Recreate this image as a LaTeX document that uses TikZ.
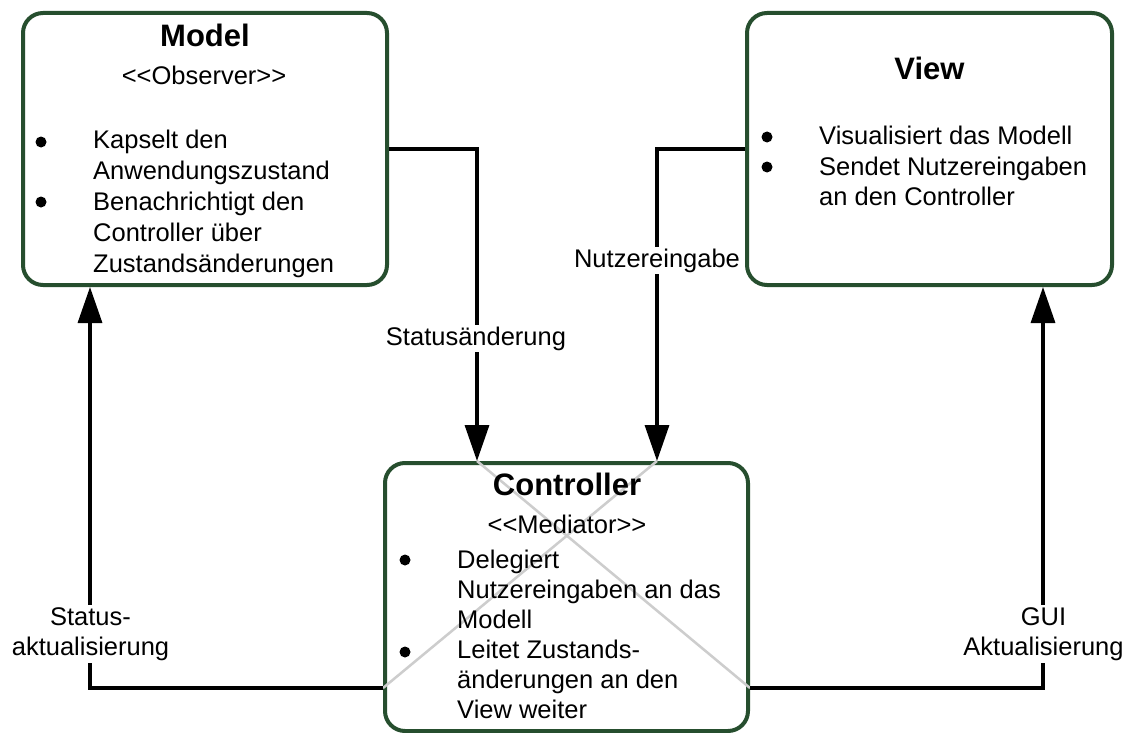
\documentclass[tikz,border=0pt]{standalone}
\usepackage{fontspec}
\setmainfont{Liberation Sans}
\usetikzlibrary{arrows.meta}

\definecolor{boxgreen}{RGB}{38,78,46}
\definecolor{crossgray}{RGB}{205,205,205}

\tikzset{
  panel/.style={draw=boxgreen, line width=4pt, rounded corners=20pt, fill=white,
    inner sep=0pt, minimum width=#1},
  conn/.style={line width=3.3pt, -{Triangle[length=36pt,width=24pt]}},
  crossline/.style={draw=crossgray, line width=2.5pt},
  title/.style={font=\fontsize{31}{36}\selectfont\bfseries, anchor=base, inner sep=0pt},
  stereo/.style={font=\fontsize{25.5}{30}\selectfont, anchor=base, inner sep=0pt},
  txt/.style={font=\fontsize{25.5}{30}\selectfont, anchor=base west, inner sep=0pt},
  lbl/.style={font=\fontsize{25.5}{30}\selectfont, fill=white, inner sep=2pt, align=center},
  dot/.style={fill=black, circle, inner sep=0pt, minimum size=11pt}
}

\begin{document}
\begin{tikzpicture}[x=1pt, y=-1pt]
\useasboundingbox (0,0) rectangle (1129,733);

% the three component boxes
\node[panel=364pt, minimum height=272pt] (model) at (205,149) {};
\node[panel=365pt, minimum height=272pt] (view) at (929.5,149) {};
\node[panel=363pt, minimum height=268pt] (ctrl) at (566.5,597) {};

% attachment points on the controller
\coordinate (cinL) at ([xshift=-89.5pt]ctrl.north);
\coordinate (cinR) at ([xshift=90.5pt]ctrl.north);
\coordinate (coutL) at ([yshift=-91pt]ctrl.west);
\coordinate (coutR) at ([yshift=-91pt]ctrl.east);
\coordinate (mIn) at ([xshift=-115pt]model.south);
\coordinate (vIn) at ([xshift=113.5pt]view.south);

% light crossing lines inside the controller
\draw[crossline] (cinL) -- (coutR);
\draw[crossline] (cinR) -- (coutL);

% Model
\node[title] (mtitle) at (205,47) {Model};
\node[stereo] (mstereo) at (204,85) {<{}<Observer>{}>};
\node[dot] (mb1) at (41,142) {};
\node[txt] (m1a) at (93,148) {Kapselt den};
\node[txt] (m1b) at (93,179) {Anwendungszustand};
\node[dot] (mb2) at (41,202) {};
\node[txt] (m2a) at (93,210) {Benachrichtigt den};
\node[txt] (m2b) at (93,241) {Controller über};
\node[txt] (m2c) at (93,272) {Zustandsänderungen};

% View
\node[title] (vtitle) at (929.5,80) {View};
\node[dot] (vb1) at (767,137) {};
\node[txt] (v1a) at (819,145) {Visualisiert das Modell};
\node[dot] (vb2) at (767,167) {};
\node[txt] (v2a) at (819,175) {Sendet Nutzereingaben};
\node[txt] (v2b) at (819,205) {an den Controller};

% Controller
\node[title] (ctitle) at (567,495) {Controller};
\node[stereo] (cstereo) at (567,533) {<{}<Mediator>{}>};
\node[dot] (cb1) at (405,560) {};
\node[txt] (c1a) at (457,568) {Delegiert};
\node[txt] (c1b) at (457,598) {Nutzereingaben an das};
\node[txt] (c1c) at (457,628) {Modell};
\node[dot] (cb2) at (405,652) {};
\node[txt] (c2a) at (457,658) {Leitet Zustands-};
\node[txt] (c2b) at (457,688) {änderungen an den};
\node[txt] (c2c) at (457,718) {View weiter};

% connectors
\draw[conn] (model.east) -| (cinL);
\draw[conn] (view.west) -| (cinR);
\draw[conn] (coutL) -| (mIn);
\draw[conn] (coutR) -| (vIn);

% connector labels
\node[lbl, anchor=base] (lstat) at (476,345) {Statusänderung};
\node[lbl, anchor=base] (lnutz) at (657,267) {Nutzereingabe};
\node[lbl] (lakt) at (90.5,634) {Status-\\aktualisierung};
\node[lbl] (lgui) at (1043.5,634) {GUI\\Aktualisierung};
\end{tikzpicture}
\end{document}
